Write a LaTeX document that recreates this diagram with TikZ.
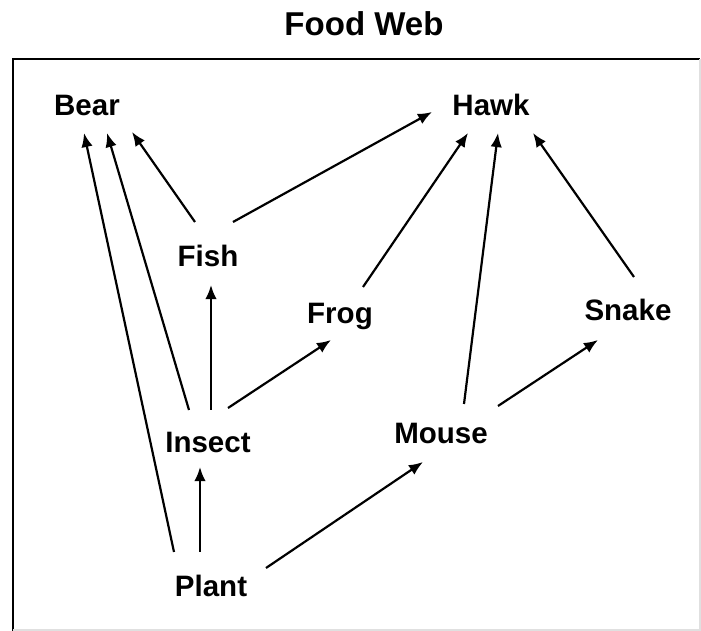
\documentclass[tikz,border=0pt]{standalone}
\usepackage{fontspec}
\setmainfont{Liberation Sans}
\usetikzlibrary{arrows.meta,calc}

\tikzset{
  animal/.style={font=\fontsize{16.8}{20}\selectfont\bfseries, inner sep=0pt, text height=12pt, text depth=0pt},
  eats/.style={-{Latex[length=8pt,width=6.5pt]}, line width=1.25pt},
}

\begin{document}
\begin{tikzpicture}[x=0.02cm, y=-0.02cm]
\useasboundingbox (0,0) rectangle (701,631);
% frame
\draw[line width=1.7pt] (700,59) -- (13,59) -- (13,631);
\draw[black!12, line width=0.8pt] (700,59) -- (700,630) -- (13,630);
\node[font=\fontsize{18.8}{22}\selectfont\bfseries, inner sep=0pt, text height=13.4pt, text depth=0pt](Title) at (364,23.5){Food Web};
% animals
\node[animal](Bear) at (87,105){Bear};
\node[animal](Hawk) at (491,105){Hawk};
\node[animal](Fish) at (208,256){Fish};
\node[animal](Frog) at (340,313){Frog};
\node[animal](Snake) at (628,310){Snake};
\node[animal](Insect) at (208,442){Insect};
\node[animal](Mouse) at (441,433){Mouse};
\node[animal](Plant) at (211,586){Plant};
% who eats whom
\draw[eats] ($(Plant)+(-37,-34)$) -- ($(Bear)+(-3,28)$);
\draw[eats] ($(Insect)+(-19,-32)$) -- ($(Bear)+(20,28)$);
\draw[eats] ($(Fish)+(-13,-34)$) -- ($(Bear)+(45,27)$);
\draw[eats] ($(Plant)+(-11,-34)$) -- ($(Insect)+(-8,25)$);
\draw[eats] ($(Insect)+(3,-32)$) -- ($(Fish)+(3,29)$);
\draw[eats] ($(Insect)+(20,-34)$) -- ($(Frog)+(-9,27)$);
\draw[eats] ($(Fish)+(25,-34)$) -- ($(Hawk)+(-59,7)$);
\draw[eats] ($(Frog)+(23,-26)$) -- ($(Hawk)+(-23,28)$);
\draw[eats] ($(Mouse)+(23,-29)$) -- ($(Hawk)+(7,28)$);
\draw[eats] ($(Snake)+(6,-33)$) -- ($(Hawk)+(42,28)$);
\draw[eats] ($(Mouse)+(57,-27)$) -- ($(Snake)+(-30,30)$);
\draw[eats] ($(Plant)+(55,-18)$) -- ($(Mouse)+(-18,29)$);
\end{tikzpicture}
\end{document}
